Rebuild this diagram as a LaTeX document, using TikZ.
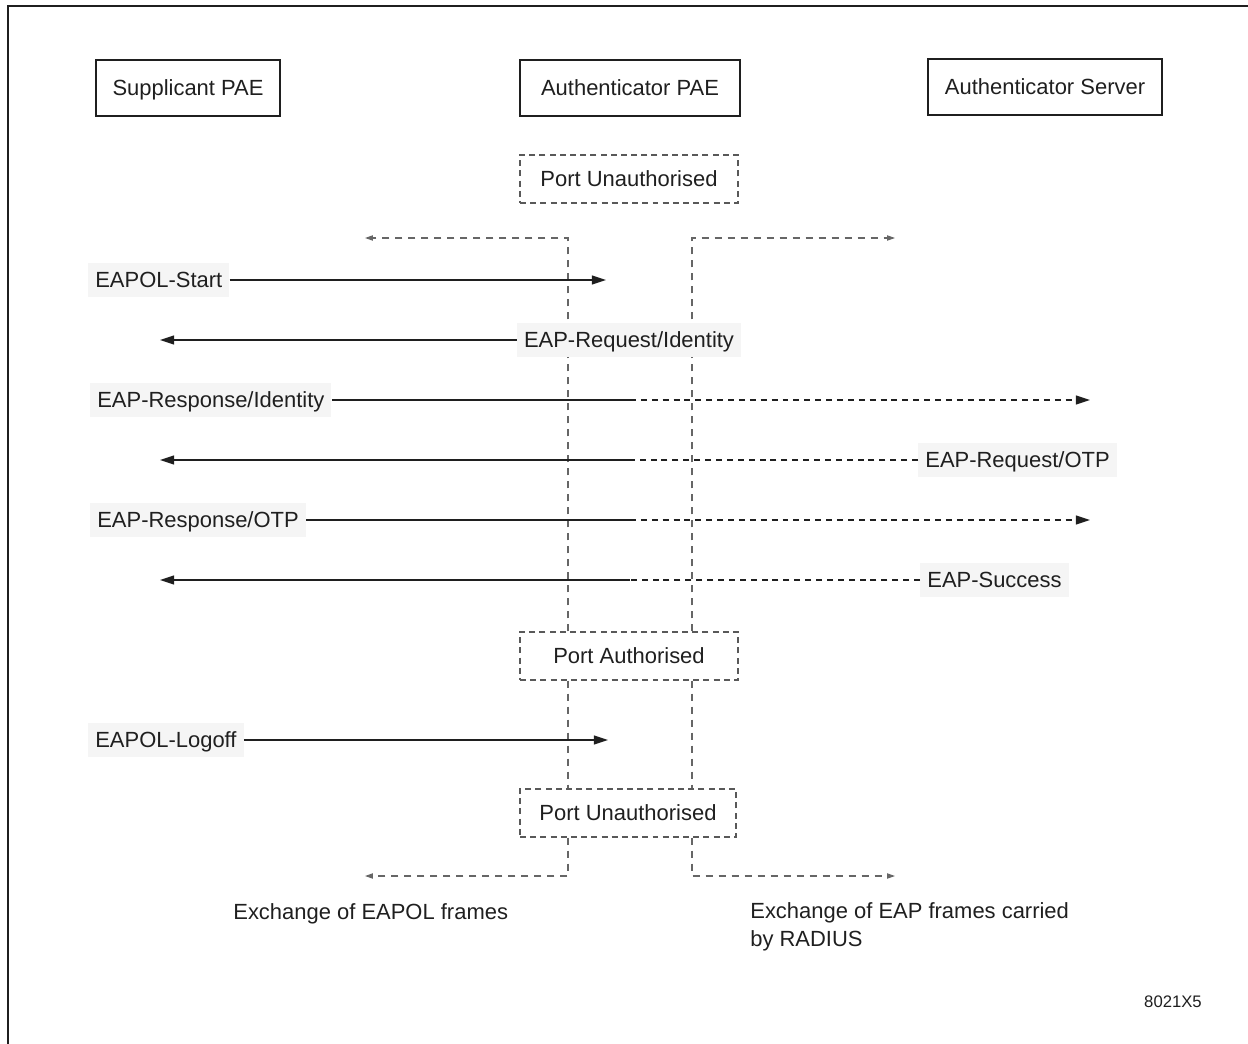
\documentclass[tikz,border=0pt]{standalone}
\usepackage{fontspec}
\setmainfont{Liberation Sans}
\usetikzlibrary{arrows.meta}

\begin{document}
\begin{tikzpicture}[x=0.02cm, y=-0.02cm,
    every node/.style={font=\fontsize{12.5}{16}\selectfont, text=black!88, inner sep=0pt},
    entidade/.style={draw=black!88, line width=1.1pt, minimum height=1.12cm, text height=9pt, text depth=0pt},
    porta/.style={draw=black!65, line width=0.6pt, dash pattern=on 3.4pt off 2.4pt, minimum width=4.36cm, minimum height=0.96cm, text height=9pt, text depth=0pt},
    rotulo/.style={fill=black!4, inner xsep=0.14cm, minimum height=0.68cm, text height=9pt, text depth=0pt},
    msg/.style={draw=black!88, line width=1pt},
    msgtrac/.style={msg, dash pattern=on 3.4pt off 2.8pt},
    ponta/.style={-{Triangle[length=8pt, width=5pt]}},
    fio/.style={draw=black!60, line width=0.6pt, dash pattern=on 4pt off 3.4pt, -{Triangle[length=4.5pt, width=3pt]}}]

    \useasboundingbox (0,0) rectangle (1248,1044);

    % Moldura
    \draw[line width=1.1pt, black!88] (8,1100) -- (8,6) -- (1300,6);

    % Entidades
    \node[entidade, minimum width=3.68cm] (sup) at (188,88) {Supplicant PAE};
    \node[entidade, minimum width=4.4cm] (auth) at (630,88) {Authenticator PAE};
    \node[entidade, minimum width=4.68cm] (serv) at (1045,87) {Authenticator Server};

    % Estados da porta
    \node[porta] (pu1) at (629,179) {Port Unauthorised};
    \node[porta] (pa) at (629,656) {Port Authorised};
    \node[porta, minimum width=4.32cm] (pu2) at (628,813) {Port Unauthorised};

    % Cantos das linhas verticais
    \coordinate (e1) at (568,238);
    \coordinate (d1) at (692,238);
    \coordinate (e2) at (568,876);
    \coordinate (d2) at (692,876);
    \coordinate (se1) at (365,238);
    \coordinate (sd1) at (895,238);
    \coordinate (se2) at (365,876);
    \coordinate (sd2) at (895,876);

    % Linhas verticais (troca de quadros)
    \draw[fio] (pa.north -| e1) -- (e1) -- (se1);
    \draw[fio] (pa.north -| d1) -- (d1) -- (sd1);
    \draw[fio, -] (pa.south -| e1) -- (pu2.north -| e1);
    \draw[fio, -] (pa.south -| d1) -- (pu2.north -| d1);
    \draw[fio] (pu2.south -| e2) -- (e2) -- (se2);
    \draw[fio] (pu2.south -| d2) -- (d2) -- (sd2);

    % Mensagens
    \node[rotulo, anchor=west] (start) at (88,280) {EAPOL-Start};
    \node[rotulo] (reqid) at (629,340) {EAP-Request/Identity};
    \node[rotulo, anchor=west] (respid) at (90,400) {EAP-Response/Identity};
    \node[rotulo, anchor=west] (reqotp) at (918,460) {EAP-Request/OTP};
    \node[rotulo, anchor=west] (respotp) at (90,520) {EAP-Response/OTP};
    \node[rotulo, anchor=west] (succ) at (920,580) {EAP-Success};
    \node[rotulo, anchor=west] (logoff) at (88,740) {EAPOL-Logoff};

    % Pontos das setas
    \coordinate (fstart) at (606,280);
    \coordinate (freqid) at (160,340);
    \coordinate (mrespid) at (630,400);
    \coordinate (frespid) at (1090,400);
    \coordinate (mreqotp) at (630,460);
    \coordinate (freqotp) at (160,460);
    \coordinate (mrespotp) at (630,520);
    \coordinate (frespotp) at (1090,520);
    \coordinate (msucc) at (630,580);
    \coordinate (fsucc) at (160,580);
    \coordinate (flogoff) at (608,740);

    % Setas
    \draw[msg, ponta] (start) -- (fstart);
    \draw[msg, ponta] (reqid) -- (freqid);
    \draw[msg] (respid) -- (mrespid);
    \draw[msgtrac, ponta] (mrespid) -- (frespid);
    \draw[msgtrac] (reqotp) -- (mreqotp);
    \draw[msg, ponta] (mreqotp) -- (freqotp);
    \draw[msg] (respotp) -- (mrespotp);
    \draw[msgtrac, ponta] (mrespotp) -- (frespotp);
    \draw[msgtrac] (succ) -- (msucc);
    \draw[msg, ponta] (msucc) -- (fsucc);
    \draw[msg, ponta] (logoff) -- (flogoff);

    % Legendas
    \node[anchor=west] (leg1) at (233,914) {Exchange of EAPOL frames};
    \node[anchor=north west, align=left] (leg2) at (750,902) {Exchange of EAP frames carried\\by RADIUS};
    \node[font=\fontsize{9.5}{11}\selectfont] (ref) at (1173,1002) {8021X5};

\end{tikzpicture}
\end{document}
